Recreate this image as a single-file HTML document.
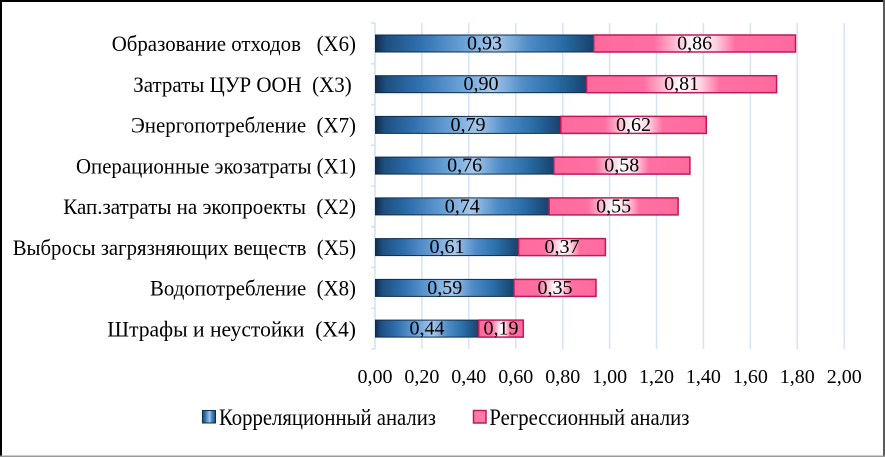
<!DOCTYPE html>
<html>
<head>
<meta charset="utf-8">
<style>
  html,body{margin:0;padding:0;background:#fff;}
  svg{display:block;}
  text{font-family:"Liberation Serif","Noto Serif CJK SC",serif;fill:#000;}
</style>
</head>
<body>
<svg width="885" height="457" viewBox="0 0 885 457" xmlns="http://www.w3.org/2000/svg">
  <defs>
    <linearGradient id="gb" x1="0" y1="0" x2="1" y2="0">
      <stop offset="0" stop-color="#142c4a"/>
      <stop offset="0.05" stop-color="#1d4f80"/>
      <stop offset="0.2" stop-color="#2f6fae"/>
      <stop offset="0.42" stop-color="#6ea5da"/>
      <stop offset="0.55" stop-color="#a6c7ea"/>
      <stop offset="0.7" stop-color="#4f8cc8"/>
      <stop offset="0.85" stop-color="#2a6ea8"/>
      <stop offset="1" stop-color="#17426c"/>
    </linearGradient>
    <linearGradient id="gp" x1="0" y1="0" x2="1" y2="0">
      <stop offset="0" stop-color="#ff6a9d"/>
      <stop offset="0.3" stop-color="#ff6fa1"/>
      <stop offset="0.42" stop-color="#ffc6da"/>
      <stop offset="0.5" stop-color="#ffffff"/>
      <stop offset="0.6" stop-color="#ffd4e3"/>
      <stop offset="0.7" stop-color="#ff70a2"/>
      <stop offset="1" stop-color="#ff6a9d"/>
    </linearGradient>
  </defs>

  <rect x="0" y="0" width="885" height="457" fill="#fff"/>

  <!-- gridlines -->
  <g stroke="#d5e4f5" stroke-width="1.5">
    <line x1="421.9" y1="23" x2="421.9" y2="349"/>
    <line x1="468.8" y1="23" x2="468.8" y2="349"/>
    <line x1="515.8" y1="23" x2="515.8" y2="349"/>
    <line x1="562.7" y1="23" x2="562.7" y2="349"/>
    <line x1="609.6" y1="23" x2="609.6" y2="349"/>
    <line x1="656.5" y1="23" x2="656.5" y2="349"/>
    <line x1="703.4" y1="23" x2="703.4" y2="349"/>
    <line x1="750.4" y1="23" x2="750.4" y2="349"/>
    <line x1="797.3" y1="23" x2="797.3" y2="349"/>
    <line x1="844.2" y1="23" x2="844.2" y2="349"/>
  </g>
  <!-- left axis -->
  <g stroke="#cfe0f3" stroke-width="1.5">
    <line x1="375" y1="23" x2="375" y2="349"/>
    <line x1="371" y1="23" x2="375" y2="23"/>
    <line x1="371" y1="63.75" x2="375" y2="63.75"/>
    <line x1="371" y1="104.5" x2="375" y2="104.5"/>
    <line x1="371" y1="145.25" x2="375" y2="145.25"/>
    <line x1="371" y1="186" x2="375" y2="186"/>
    <line x1="371" y1="226.75" x2="375" y2="226.75"/>
    <line x1="371" y1="267.5" x2="375" y2="267.5"/>
    <line x1="371" y1="308.25" x2="375" y2="308.25"/>
    <line x1="371" y1="349" x2="375" y2="349"/>
  </g>

  <!-- bars -->
  <g stroke-width="1">
    <rect x="375.5" y="35" width="218.2" height="17" fill="url(#gb)" stroke="#0f2d4d"/>
    <rect x="593.7" y="35" width="201.8" height="17" fill="url(#gp)" stroke="#c0185a" stroke-width="1.5"/>
    <rect x="375.5" y="75.7" width="211.1" height="17" fill="url(#gb)" stroke="#0f2d4d"/>
    <rect x="586.6" y="75.7" width="190" height="17" fill="url(#gp)" stroke="#c0185a" stroke-width="1.5"/>
    <rect x="375.5" y="116.4" width="185.3" height="17" fill="url(#gb)" stroke="#0f2d4d"/>
    <rect x="560.8" y="116.4" width="145.5" height="17" fill="url(#gp)" stroke="#c0185a" stroke-width="1.5"/>
    <rect x="375.5" y="157.1" width="178.3" height="17" fill="url(#gb)" stroke="#0f2d4d"/>
    <rect x="553.8" y="157.1" width="136.1" height="17" fill="url(#gp)" stroke="#c0185a" stroke-width="1.5"/>
    <rect x="375.5" y="197.9" width="173.6" height="17" fill="url(#gb)" stroke="#0f2d4d"/>
    <rect x="549.1" y="197.9" width="129" height="17" fill="url(#gp)" stroke="#c0185a" stroke-width="1.5"/>
    <rect x="375.5" y="238.6" width="143.1" height="17" fill="url(#gb)" stroke="#0f2d4d"/>
    <rect x="518.6" y="238.6" width="86.8" height="17" fill="url(#gp)" stroke="#c0185a" stroke-width="1.5"/>
    <rect x="375.5" y="279.4" width="138.4" height="17" fill="url(#gb)" stroke="#0f2d4d"/>
    <rect x="513.9" y="279.4" width="82.1" height="17" fill="url(#gp)" stroke="#c0185a" stroke-width="1.5"/>
    <rect x="375.5" y="320.1" width="103.2" height="17" fill="url(#gb)" stroke="#0f2d4d"/>
    <rect x="478.7" y="320.1" width="44.6" height="17" fill="url(#gp)" stroke="#c0185a" stroke-width="1.5"/>
  </g>

  <!-- value labels -->
  <g font-size="20" text-anchor="middle">
    <text x="484.5" y="49.5">0,93</text>
    <text x="694.6" y="49.5">0,86</text>
    <text x="481" y="90.2">0,90</text>
    <text x="681.6" y="90.2">0,81</text>
    <text x="468" y="130.9">0,79</text>
    <text x="633.5" y="130.9">0,62</text>
    <text x="464.6" y="171.6">0,76</text>
    <text x="621.8" y="171.6">0,58</text>
    <text x="462.3" y="212.4">0,74</text>
    <text x="613.6" y="212.4">0,55</text>
    <text x="447" y="253.1">0,61</text>
    <text x="562" y="253.1">0,37</text>
    <text x="444.7" y="293.9">0,59</text>
    <text x="555" y="293.9">0,35</text>
    <text x="427" y="334.6">0,44</text>
    <text x="501" y="334.6">0,19</text>
  </g>

  <!-- category labels -->
  <g font-size="22.5">
    <text x="111.7" y="51" textLength="244.3" lengthAdjust="spacingAndGlyphs" xml:space="preserve">Образование отходов   (X6)</text>
    <text x="133.3" y="91.8" textLength="218.4" lengthAdjust="spacingAndGlyphs" xml:space="preserve">Затраты ЦУР ООН  (X3)</text>
    <text x="131" y="132.6" textLength="225" lengthAdjust="spacingAndGlyphs" xml:space="preserve">Энергопотребление  (X7)</text>
    <text x="76" y="173.3" textLength="280" lengthAdjust="spacingAndGlyphs" xml:space="preserve">Операционные экозатраты (X1)</text>
    <text x="63.3" y="214.1" textLength="292.7" lengthAdjust="spacingAndGlyphs" xml:space="preserve">Кап.затраты на экопроекты  (X2)</text>
    <text x="12.7" y="254.8" textLength="343.3" lengthAdjust="spacingAndGlyphs" xml:space="preserve">Выбросы загрязняющих веществ  (X5)</text>
    <text x="150" y="295.6" textLength="206" lengthAdjust="spacingAndGlyphs" xml:space="preserve">Водопотребление  (X8)</text>
    <text x="107.3" y="336.3" textLength="248.7" lengthAdjust="spacingAndGlyphs" xml:space="preserve">Штрафы и неустойки  (X4)</text>
  </g>

  <!-- x tick labels -->
  <g font-size="20" text-anchor="middle">
    <text x="375" y="383">0,00</text>
    <text x="421.9" y="383">0,20</text>
    <text x="468.8" y="383">0,40</text>
    <text x="515.8" y="383">0,60</text>
    <text x="562.7" y="383">0,80</text>
    <text x="609.6" y="383">1,00</text>
    <text x="656.5" y="383">1,20</text>
    <text x="703.4" y="383">1,40</text>
    <text x="750.4" y="383">1,60</text>
    <text x="797.3" y="383">1,80</text>
    <text x="844.2" y="383">2,00</text>
  </g>

  <!-- legend -->
  <rect x="202.5" y="410.5" width="13" height="12.5" fill="url(#gb)" stroke="#0f2d4d"/>
  <text x="219" y="425" font-size="23" textLength="217" lengthAdjust="spacingAndGlyphs">Корреляционный анализ</text>
  <rect x="473.5" y="410.5" width="12.5" height="12.5" fill="#ff7aa8" stroke="#c0185a" stroke-width="1.5"/>
  <text x="489.4" y="425" font-size="23" textLength="200" lengthAdjust="spacingAndGlyphs">Регрессионный анализ</text>

  <!-- frame -->
  <rect x="0" y="0" width="885" height="2" fill="#000"/>
  <rect x="0" y="0" width="2" height="457" fill="#000"/>
  <rect x="883" y="0" width="2" height="457" fill="#5a5a5a"/>
  <rect x="0" y="455.5" width="885" height="1.5" fill="#9a9a9a"/>
</svg>
</body>
</html>
